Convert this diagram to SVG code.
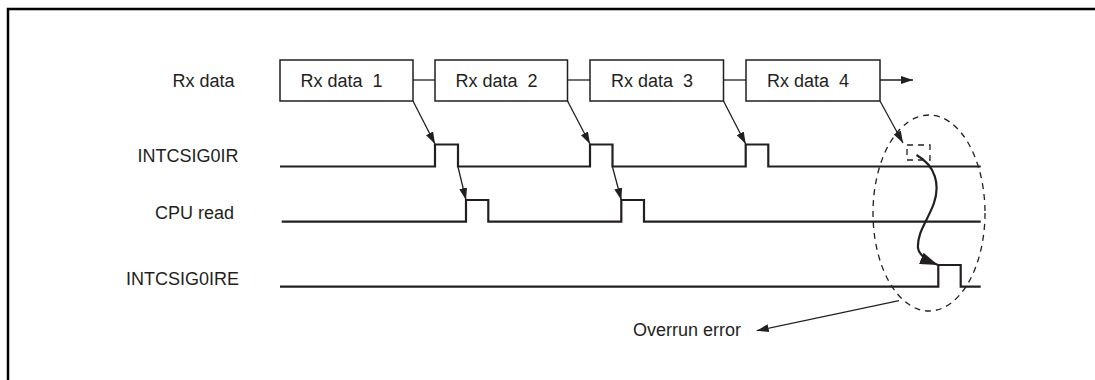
<svg xmlns="http://www.w3.org/2000/svg" width="1095" height="380" viewBox="0 0 1095 380">
<defs>
<style>
.t{font-family:"Liberation Sans",Arial,sans-serif;font-size:18px;fill:#231f20}
.box{fill:#fff;stroke:#231f20;stroke-width:1.5}
.sig{fill:none;stroke:#231f20;stroke-width:2.2}
.ln{fill:none;stroke:#231f20;stroke-width:1.3}
.dash{fill:none;stroke:#231f20;stroke-width:1.3;stroke-dasharray:6 5}
</style>
<marker id="ah" viewBox="0 0 12 8" refX="12" refY="4" markerWidth="12" markerHeight="8" markerUnits="userSpaceOnUse" orient="auto">
<path d="M0,0 L12,4 L0,8 Z" fill="#231f20"/>
</marker>
<marker id="ahb" viewBox="0 0 18 12" refX="18" refY="6" markerWidth="18" markerHeight="12" markerUnits="userSpaceOnUse" orient="auto">
<path d="M0,0 L18,6 L0,12 Z" fill="#231f20"/>
</marker>
</defs>
<rect width="1095" height="380" fill="#fff"/>
<path d="M8,380 V9 H1095" fill="none" stroke="#000" stroke-width="2.5"/>

<g id="labels">
<text class="t" x="172.5" y="87">Rx data</text>
<text class="t" x="137.5" y="162">INTCSIG0IR</text>
<text class="t" x="155" y="219">CPU read</text>
<text class="t" x="126" y="285">INTCSIG0IRE</text>
</g>

<g id="rx1"><rect class="box" x="280" y="60" width="133" height="41"/><text class="t" x="300.5" y="87" xml:space="preserve">Rx data  1</text></g>
<g id="rx2"><rect class="box" x="435" y="60" width="132.5" height="41"/><text class="t" x="455.5" y="87" xml:space="preserve">Rx data  2</text></g>
<g id="rx3"><rect class="box" x="590" y="60" width="133.5" height="41"/><text class="t" x="611" y="87" xml:space="preserve">Rx data  3</text></g>
<g id="rx4"><rect class="box" x="746" y="60" width="134" height="41"/><text class="t" x="767" y="87" xml:space="preserve">Rx data  4</text></g>

<g id="intcsig0ir"><path class="sig" d="M280,166.5 H435 V144.5 H458 V166.5 H590 V144.5 H612.5 V166.5 H745.7 V144.5 H768.3 V166.5 H980.7"/></g>
<g id="cpuread"><path class="sig" d="M281.7,221.7 H466 V200 H488.3 V221.7 H621.3 V200 H644 V221.7 H980.7"/></g>
<g id="intcsig0ire"><path class="sig" d="M280,286.7 H938.3 V265 H960.7 V286.7 H980.7"/></g>

<g id="overrun">
<ellipse class="dash" cx="929" cy="213" rx="56" ry="98"/>
<rect class="dash" x="907" y="145" width="23" height="15" stroke-width="2" stroke-dasharray="5 4"/>
<text class="t" x="633" y="336">Overrun error</text>
</g>

<g id="connectors">
<path class="ln" d="M413,80 H435"/>
<path class="ln" d="M567.5,80 H590"/>
<path class="ln" d="M723.5,80 H746"/>
<path class="ln" d="M880,80 H913" marker-end="url(#ah)"/>
<path class="ln" d="M413,101 L435,144" marker-end="url(#ah)"/>
<path class="ln" d="M567.5,101 L590,144" marker-end="url(#ah)"/>
<path class="ln" d="M723.5,101 L745.7,144" marker-end="url(#ah)"/>
<path class="ln" d="M880,101 L903,143" marker-end="url(#ah)"/>
<path class="ln" d="M458,167 L466,200" marker-end="url(#ah)"/>
<path class="ln" d="M612.5,167 L621.3,200" marker-end="url(#ah)"/>
<path d="M916.5,155 C936,166 940,185 934,203 C928,220 917,232 918,248 C919,256 928,261 938,265" fill="none" stroke="#231f20" stroke-width="2.2" marker-end="url(#ahb)"/>
<path class="ln" d="M899,300.7 L756.7,330.7" marker-end="url(#ah)"/>
</g>
</svg>
